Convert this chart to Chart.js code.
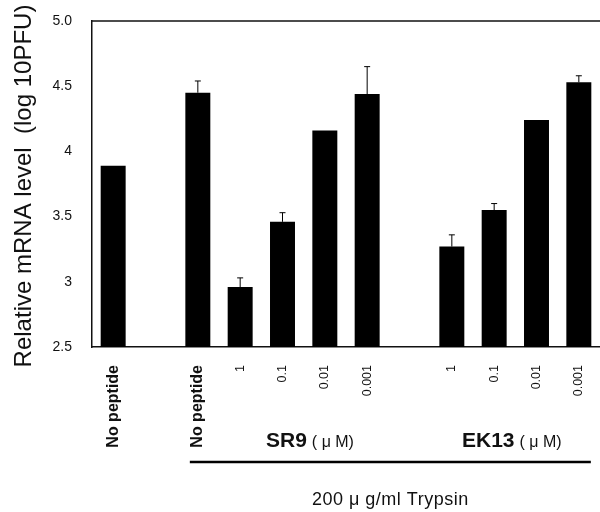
<!DOCTYPE html>
<html>
<head>
<meta charset="utf-8">
<script src="https://cdn.jsdelivr.net/npm/chart.js@4.4.0/dist/chart.umd.min.js"></script>
<style>
  html, body { margin: 0; padding: 0; background: #fff; }
  .chart-container { width: 600px; height: 512px; }
</style>
</head>
<body>
<div class="chart-container"><canvas id="chart"></canvas></div>
<script>
// bar categories (empty slots are the gaps between groups)
const categories = ['No peptide', '', 'No peptide', '1', '0.1', '0.01', '0.001', '', '1', '0.1', '0.01', '0.001'];
const mrnaLevel = [3.89, null, 4.45, 2.96, 3.46, 4.16, 4.44, null, 3.27, 3.55, 4.24, 4.53];
const errorTop = [null, null, 4.54, 3.03, 3.53, null, 4.65, null, 3.36, 3.60, null, 4.58];

const yTickValues = [2.5, 3, 3.5, 4, 4.5, 5];
const yTickLabels = ['2.5', '3', '3.5', '4', '4.5', '5.0'];

const groupNames = ['SR9', 'EK13'];
const groupUnit = '( \u03bc M)';
const treatment = '200 \u03bc g/ml Trypsin';
const yTitle = 'Relative mRNA level  (log 10PFU)';

const FONT = "'Liberation Sans', Arial, Helvetica, sans-serif";

// no extra label padding around the plot, so the chart area sits where we want it
function noPadding(scale) {
  scale.paddingTop = 0;
  scale.paddingBottom = 0;
  scale.paddingLeft = 0;
  scale.paddingRight = 0;
}

const extras = {
  id: 'extras',
  afterDatasetsDraw(chart) {
    const { ctx, chartArea, scales: { x, y } } = chart;
    ctx.save();

    // top frame line
    ctx.strokeStyle = '#111';
    ctx.lineWidth = 1.5;
    ctx.beginPath();
    ctx.moveTo(chartArea.left, chartArea.top);
    ctx.lineTo(chartArea.right, chartArea.top);
    ctx.stroke();

    // error bars (upper only)
    ctx.lineWidth = 1;
    ctx.strokeStyle = '#000';
    for (let i = 0; i < errorTop.length; i++) {
      if (errorTop[i] === null) continue;
      const px = x.getPixelForValue(i);
      const top = y.getPixelForValue(errorTop[i]);
      const base = y.getPixelForValue(mrnaLevel[i]);
      ctx.beginPath();
      ctx.moveTo(px, base);
      ctx.lineTo(px, top);
      ctx.moveTo(px - 3, top);
      ctx.lineTo(px + 3, top);
      ctx.stroke();
    }

    // y axis title
    ctx.fillStyle = '#111';
    ctx.font = '24px ' + FONT;
    ctx.textAlign = 'center';
    ctx.textBaseline = 'middle';
    ctx.translate(24, 186);
    ctx.rotate(-Math.PI / 2);
    ctx.fillText(yTitle, 0, 0);
    ctx.restore();

    ctx.save();
    ctx.fillStyle = '#111';
    ctx.textBaseline = 'alphabetic';
    ctx.textAlign = 'left';

    // group labels
    const groupX = [266, 462];
    for (let g = 0; g < groupNames.length; g++) {
      ctx.font = 'bold 21px ' + FONT;
      ctx.fillText(groupNames[g], groupX[g], 447);
      const w = ctx.measureText(groupNames[g]).width;
      ctx.font = '16px ' + FONT;
      ctx.fillText(groupUnit, groupX[g] + w + 5, 447);
    }

    // treatment line
    const lineLeft = x.getPixelForValue(2) - 8;
    const lineRight = x.getPixelForValue(11) + 12;
    ctx.strokeStyle = '#000';
    ctx.lineWidth = 2.5;
    ctx.beginPath();
    ctx.moveTo(lineLeft, 462);
    ctx.lineTo(lineRight, 462);
    ctx.stroke();

    ctx.font = '18px ' + FONT;
    ctx.letterSpacing = '0.5px';
    ctx.textAlign = 'center';
    ctx.fillText(treatment, (lineLeft + lineRight) / 2, 505);
    ctx.restore();
  }
};

const ctx = document.getElementById('chart');

new Chart(ctx, {
  type: 'bar',
  data: {
    labels: categories,
    datasets: [{
      data: mrnaLevel,
      backgroundColor: '#000',
      borderWidth: 0,
      barPercentage: 0.59,
      categoryPercentage: 1
    }]
  },
  options: {
    responsive: true,
    maintainAspectRatio: false,
    animation: false,
    layout: { padding: { top: 21, right: 0, left: 0, bottom: 0 } },
    plugins: {
      legend: { display: false },
      tooltip: { enabled: false }
    },
    scales: {
      x: {
        grid: { display: false, drawTicks: false },
        border: { display: true, color: '#111', width: 1.5 },
        afterFit: (scale) => {
          scale.height = 165;
          noPadding(scale);
        },
        ticks: {
          autoSkip: false,
          maxRotation: 90,
          minRotation: 90,
          padding: 18,
          color: '#111',
          font: (c) => categories[c.index] === 'No peptide'
            ? { family: FONT, size: 16, weight: 'bold' }
            : { family: FONT, size: 12.5 }
        }
      },
      y: {
        min: 2.5,
        max: 5,
        grid: { display: false, drawTicks: false },
        border: { display: true, color: '#111', width: 1.5 },
        afterFit: (scale) => {
          scale.width = 92;
          noPadding(scale);
        },
        afterBuildTicks: (scale) => {
          scale.ticks = yTickValues.map(v => ({ value: v }));
        },
        ticks: {
          padding: 20,
          color: '#111',
          font: { family: FONT, size: 14 },
          callback: (value) => yTickLabels[yTickValues.indexOf(value)]
        }
      }
    }
  },
  plugins: [extras]
});
</script>
</body>
</html>
